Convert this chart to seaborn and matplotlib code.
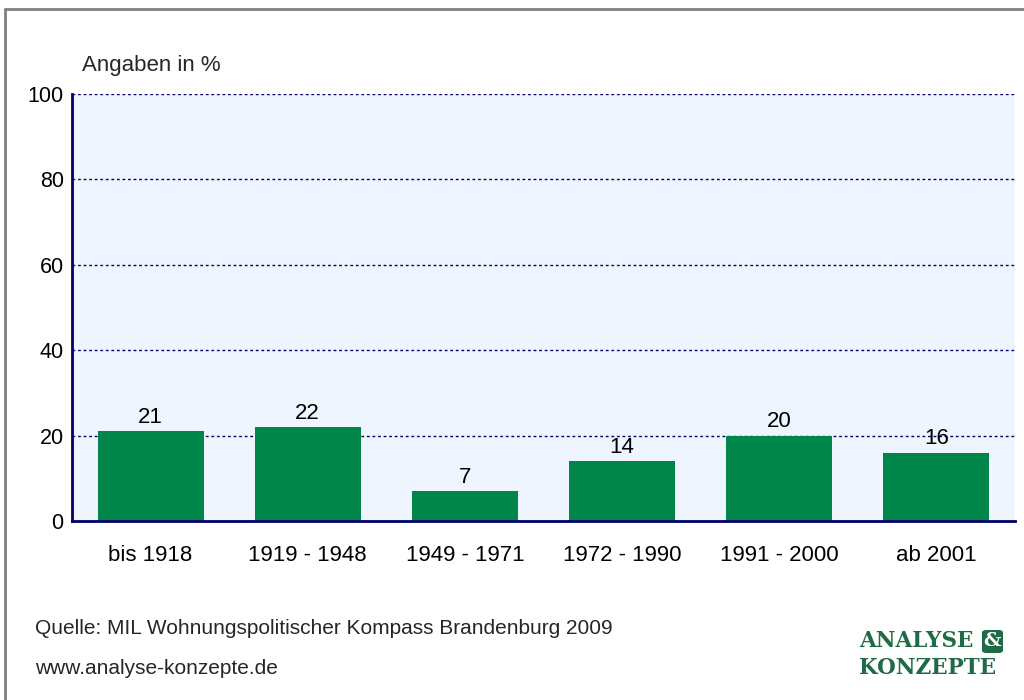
import matplotlib
matplotlib.use("Agg")
import matplotlib.pyplot as plt
import seaborn as sns
import pandas as pd
from matplotlib.patches import FancyBboxPatch
from matplotlib.lines import Line2D

categories = ["bis 1918", "1919 - 1948", "1949 - 1971", "1972 - 1990", "1991 - 2000", "ab 2001"]
values = [21, 22, 7, 14, 20, 16]
yticks = [0, 20, 40, 60, 80, 100]

sns.set_theme(style="white")
plt.rcParams['font.family'] = ['Liberation Sans', 'DejaVu Sans']

navy = "#000066"
green = "#00854A"

fig = plt.figure(figsize=(10.24, 7.0), dpi=100)
W, H = 1024, 700
ax = fig.add_axes([72 / W, 1 - 521 / H, (1015 - 72) / W, (521 - 94) / H])
ax.set_facecolor("#EEF5FE")

df = pd.DataFrame({"cat": categories, "val": values})
sns.barplot(data=df, x="cat", y="val", color=green, saturation=1, width=0.675, ax=ax, zorder=3)
for p in ax.patches:
    p.set_edgecolor("none")

ax.set_ylim(0, 100)
ax.set_xlim(-0.5, len(categories) - 0.5)
ax.set_yticks(yticks)
ax.set_yticklabels([str(t) for t in yticks], fontsize=15.5, color="black")
ax.tick_params(axis="x", length=0, pad=17, labelsize=16, labelcolor="black")
ax.tick_params(axis="y", length=5, width=1.5, color=navy, direction="out", pad=1)
ax.set_xlabel("")
ax.set_ylabel("")
for t in yticks[1:]:
    ax.axhline(t, color=navy, linestyle=(0, (2, 2)), linewidth=1.0, zorder=1)

for s in ["top", "right"]:
    ax.spines[s].set_visible(False)
for s in ["left", "bottom"]:
    ax.spines[s].set_color(navy)
    ax.spines[s].set_linewidth(2)
    ax.spines[s].set_zorder(5)

for i, v in enumerate(values):
    ax.text(i, v + 0.8, str(v), ha="center", va="bottom", fontsize=16, color="black", zorder=4)

fig.text(82 / W, 1 - 65 / H, "Angaben in %", fontsize=16, ha="left", va="center")
fig.text(35 / W, 1 - 628 / H, "Quelle: MIL Wohnungspolitischer Kompass Brandenburg 2009",
         fontsize=15, ha="left", va="center")
fig.text(35 / W, 1 - 668 / H, "www.analyse-konzepte.de", fontsize=15, ha="left", va="center")

# frame
fig.add_artist(Line2D([5 / W, 5 / W], [0, 1 - 9 / H], color="#808080", linewidth=2, transform=fig.transFigure))
fig.add_artist(Line2D([5 / W, 1], [1 - 9 / H, 1 - 9 / H], color="#808080", linewidth=2, transform=fig.transFigure))

# logo
logo_green = "#1F6B45"
serif = ["DejaVu Serif", "Liberation Serif"]
fig.text(859 / W, 1 - 641 / H, "ANALYSE", fontsize=15.5, fontweight="bold", family=serif,
         color=logo_green, ha="left", va="center")
fig.text(859 / W, 1 - 668 / H, "KONZEPTE", fontsize=15.5, fontweight="bold", family=serif,
         color=logo_green, ha="left", va="center")
box = FancyBboxPatch((982 / W, 1 - 653 / H), 21 / W, 23 / H, boxstyle="round,pad=0,rounding_size=0.004",
                     transform=fig.transFigure, facecolor=logo_green, edgecolor="none")
fig.add_artist(box)
fig.text(992.5 / W, 1 - 641 / H, "&", fontsize=14, fontweight="bold", family=serif,
         color="white", ha="center", va="center")

fig.savefig("out.png", dpi=100, facecolor="white")
